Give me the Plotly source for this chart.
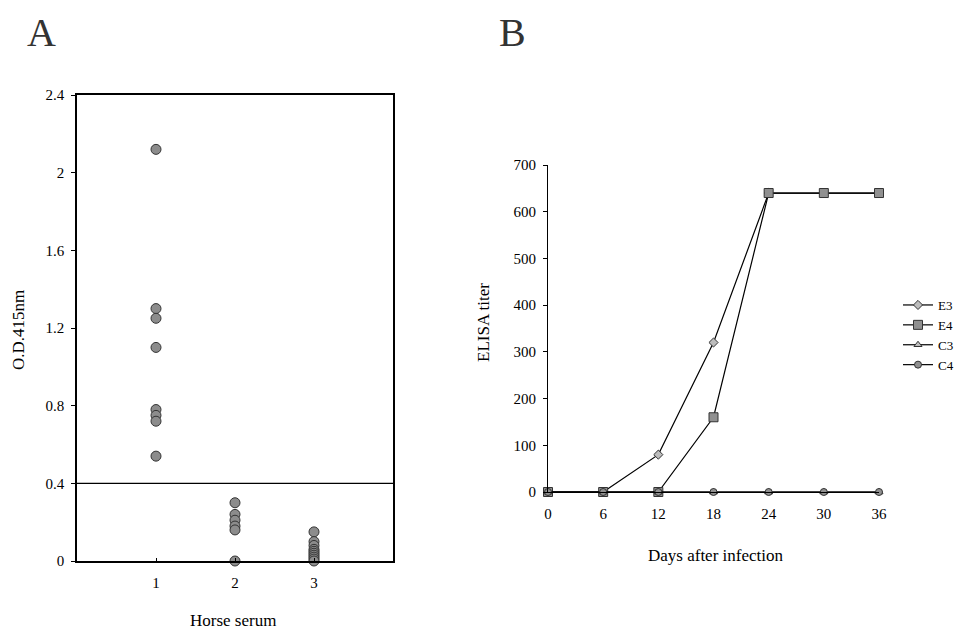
import plotly.graph_objects as go

# ---------- Panel A data ----------
serum_group1 = [2.12, 1.30, 1.25, 1.10, 0.78, 0.75, 0.72, 0.54]
serum_group2 = [0.30, 0.24, 0.21, 0.18, 0.16, 0.0]
serum_group3 = [0.15, 0.10, 0.08, 0.06, 0.05, 0.04, 0.03, 0.02, 0.01, 0.0]
group_ids = [1, 2, 3]
cutoff_value = 0.4
a_yticks = [0, 0.4, 0.8, 1.2, 1.6, 2, 2.4]
a_yticklabels = ["0", "0.4", "0.8", "1.2", "1.6", "2", "2.4"]

# ---------- Panel B data ----------
days = [0, 6, 12, 18, 24, 30, 36]
E3 = [0, 0, 80, 320, 640, 640, 640]
E4 = [0, 0, 0, 160, 640, 640, 640]
C3 = [0, 0, 0, 0, 0, 0, 0]
C4 = [0, 0, 0, 0, 0, 0, 0]
b_yticks = [0, 100, 200, 300, 400, 500, 600, 700]

# page body adds an 8px margin; compensate
OFF = 8
W, H = 962 - OFF, 634 - OFF
def px(x):
    return (x - OFF) / W
def py(y):
    return 1 - (y - OFF) / H

serif = "Liberation Serif, Times New Roman, serif"
fig = go.Figure()

grp = [serum_group1, serum_group2, serum_group3]
for gid, vals in zip(group_ids, grp):
    fig.add_trace(go.Scatter(
        x=[gid] * len(vals), y=vals, mode="markers", xaxis="x", yaxis="y",
        marker=dict(symbol="circle", size=10, color="#8c8c8c",
                    line=dict(color="#333333", width=1)),
        showlegend=False, cliponaxis=False))

fig.add_trace(go.Scatter(
    x=[0, 4], y=[cutoff_value, cutoff_value], mode="lines", xaxis="x", yaxis="y",
    line=dict(color="black", width=1.3), showlegend=False))

series = [
    ("E3", E3, dict(symbol="diamond", size=7, color="#bdbdbd", line=dict(color="#333", width=1))),
    ("E4", E4, dict(symbol="square", size=9, color="#909090", line=dict(color="#333", width=1))),
    ("C3", C3, dict(symbol="triangle-up", size=7, color="#bdbdbd", line=dict(color="#333", width=1))),
    ("C4", C4, dict(symbol="circle", size=7, color="#909090", line=dict(color="#333", width=1))),
]
for name, vals, mk in series:
    fig.add_trace(go.Scatter(
        x=days, y=vals, name=name, mode="lines+markers", xaxis="x2", yaxis="y2",
        line=dict(color="black", width=1.2), marker=mk, cliponaxis=False))

fig.update_layout(
    width=W, height=H, margin=dict(l=0, r=0, t=0, b=0, autoexpand=False),
    paper_bgcolor="white", plot_bgcolor="white",
    font=dict(family=serif, size=15, color="black"),
    xaxis=dict(domain=[px(77), px(393)], range=[0, 4], tickvals=group_ids,
               showline=True, linecolor="black", linewidth=1.5, mirror=True,
               ticks="inside", ticklen=3, tickcolor="black", automargin=False,
               ticklabelstandoff=7,
               showgrid=False, zeroline=False, fixedrange=True),
    yaxis=dict(domain=[py(561), py(95)], range=[0, 2.4], tickvals=a_yticks,
               ticktext=a_yticklabels, automargin=False, ticklabelstandoff=4,
               showline=True, linecolor="black", linewidth=1.5, mirror=True,
               ticks="outside", ticklen=4, tickcolor="black",
               showgrid=False, zeroline=False, fixedrange=True),
    xaxis2=dict(domain=[px(548), px(879)], range=[0, 36], tickvals=days,
                showline=True, linecolor="black", linewidth=1, automargin=False,
                ticklabelstandoff=8,
                ticks="", showgrid=False, zeroline=False, anchor="y2"),
    yaxis2=dict(domain=[py(492), py(165)], range=[0, 700], tickvals=b_yticks,
                showline=True, linecolor="black", linewidth=1.2, automargin=False,
                ticks="outside", ticklen=4, tickcolor="black", ticklabelstandoff=4,
                showgrid=False, zeroline=False, anchor="x2"),
    legend=dict(x=px(898), y=py(290), xanchor="left", yanchor="top",
                font=dict(family=serif, size=13, color="black"),
                bgcolor="rgba(0,0,0,0)", tracegroupgap=0),
    annotations=[
        dict(text="A", x=px(41), y=1, xref="paper", yref="paper",
             xanchor="center", yanchor="top",
             showarrow=False, font=dict(family=serif, size=40, color="#333")),
        dict(text="B", x=px(512), y=1, xref="paper", yref="paper",
             xanchor="center", yanchor="top",
             showarrow=False, font=dict(family=serif, size=40, color="#333")),
        dict(text="O.D.415nm", x=px(18), y=py(330), xref="paper", yref="paper",
             xanchor="center", yanchor="middle",
             textangle=-90, showarrow=False, font=dict(family=serif, size=17)),
        dict(text="Horse serum", x=px(233), y=py(620), xref="paper", yref="paper",
             xanchor="center", yanchor="middle",
             showarrow=False, font=dict(family=serif, size=17)),
        dict(text="ELISA titer", x=px(483), y=py(323), xref="paper", yref="paper",
             xanchor="center", yanchor="middle",
             textangle=-90, showarrow=False, font=dict(family=serif, size=17)),
        dict(text="Days after infection", x=px(715), y=py(555), xref="paper", yref="paper",
             xanchor="center", yanchor="middle",
             showarrow=False, font=dict(family=serif, size=17)),
    ],
)

fig.write_html("out.html")
